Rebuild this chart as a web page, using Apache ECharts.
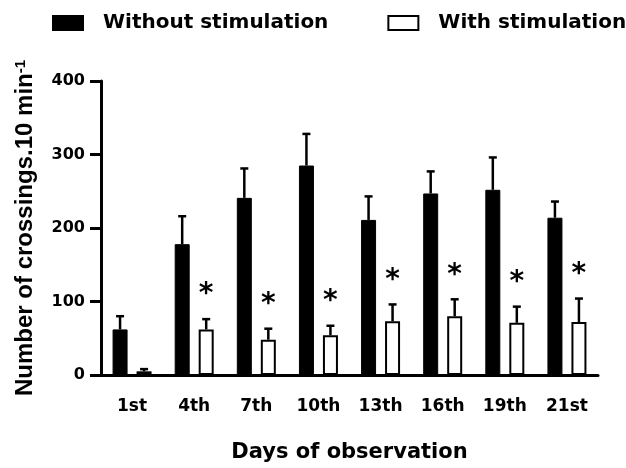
<!DOCTYPE html>
<html>
<head>
<meta charset="utf-8">
<script src="https://cdn.jsdelivr.net/npm/echarts@6/dist/echarts.min.js"></script>
<style>
  html, body { margin: 0; padding: 0; background: #fff; }
  #main { width: 626px; height: 468px; }
</style>
</head>
<body>
<div id="main"></div>
<script>
// observation days
var days = ['1st', '4th', '7th', '10th', '13th', '16th', '19th', '21st'];
// mean crossings and upper error (SD) per day
var withoutStim = [62, 178, 241, 285, 211, 247, 252, 214];
var withoutErr = [18, 38, 40, 43, 32, 30, 44, 22];
var withStim = [5, 62, 48, 54, 73, 80, 71, 72];
var withErr = [3, 14, 15, 13, 23, 23, 22, 32];
// significance marks (*) on the stimulated group
var signif = [0, 1, 1, 1, 1, 1, 1, 1];
var yTicks = [0, 100, 200, 300, 400];

var FONT = 'DejaVu Sans';

function errData(vals, errs, marks) {
  return vals.map(function (v, i) {
    return [i, v, errs[i], marks ? marks[i] : 0];
  });
}

function errRenderer(offset) {
  return function (params, api) {
    var i = api.value(0), v = api.value(1), e = api.value(2), s = api.value(3);
    var base = api.coord([i, v]);
    var top = api.coord([i, v + e]);
    var x = base[0] + offset;
    var kids = [
      { type: 'line', shape: { x1: x, y1: base[1], x2: x, y2: top[1] },
        style: { stroke: '#000', lineWidth: 2.5 } },
      { type: 'line', shape: { x1: x - 4, y1: top[1], x2: x + 4, y2: top[1] },
        style: { stroke: '#000', lineWidth: 2.5 } }
    ];
    if (s) {
      kids.push({ type: 'text', x: x, y: top[1] - 24,
        style: { text: '*', fill: '#000', font: 'bold 28px ' + FONT,
                 textAlign: 'center', textVerticalAlign: 'middle' } });
    }
    return { type: 'group', children: kids };
  };
}

var myChart = echarts.init(document.getElementById('main'));
myChart.setOption({
  animation: false,
  legend: {
    left: 52,
    top: 13,
    width: 620,
    padding: 0,
    orient: 'horizontal',
    icon: 'rect',
    itemWidth: 30,
    itemHeight: 14,
    itemGap: 59,
    data: ['Without stimulation', 'With stimulation'],
    textStyle: { fontFamily: FONT, fontWeight: 'bold', fontSize: 20, color: '#000', padding: [0, 0, 0, 15] }
  },
  grid: { left: 101, right: 28, top: 81, bottom: 93 },
  xAxis: {
    type: 'category',
    data: days,
    name: 'Days of observation',
    nameLocation: 'middle',
    nameGap: 67,
    nameTextStyle: { fontFamily: FONT, fontWeight: 'bold', fontSize: 21, color: '#000' },
    axisLine: { lineStyle: { color: '#000', width: 3 } },
    axisTick: { alignWithLabel: true, length: 12, lineStyle: { color: '#000', width: 3 } },
    axisLabel: { margin: 23, fontFamily: FONT, fontWeight: 'bold', fontSize: 17, color: '#000' }
  },
  yAxis: {
    type: 'value',
    min: yTicks[0],
    max: yTicks[yTicks.length - 1],
    interval: 100,
    name: '{a|Number of crossings.10 min}{b|-1}',
    nameLocation: 'middle',
    nameGap: 64,
    nameTextStyle: {
      rich: {
        a: { fontFamily: 'Liberation Sans', fontWeight: 'bold', fontSize: 24, color: '#000' },
        b: { fontFamily: 'Liberation Sans', fontWeight: 'bold', fontSize: 15, color: '#000', verticalAlign: 'top' }
      }
    },
    splitLine: { show: false },
    axisLine: { show: true, lineStyle: { color: '#000', width: 3 } },
    axisTick: { show: true, length: 11, lineStyle: { color: '#000', width: 3 } },
    axisLabel: { margin: 16, fontFamily: FONT, fontWeight: 'bold', fontSize: 16, color: '#000' }
  },
  series: [
    {
      name: 'Without stimulation',
      type: 'bar',
      barWidth: 15,
      barGap: '60%',
      data: withoutStim,
      itemStyle: { color: '#000', borderColor: '#000', borderWidth: 1 }
    },
    {
      name: 'With stimulation',
      type: 'bar',
      barWidth: 15,
      barGap: '60%',
      data: withStim,
      itemStyle: { color: '#fff', borderColor: '#000', borderWidth: 2 }
    },
    {
      type: 'custom',
      z: 5,
      renderItem: errRenderer(-12),
      encode: { x: 0, y: 1 },
      data: errData(withoutStim, withoutErr)
    },
    {
      type: 'custom',
      z: 5,
      renderItem: errRenderer(12),
      encode: { x: 0, y: 1 },
      data: errData(withStim, withErr, signif)
    }
  ]
});
</script>
</body>
</html>
